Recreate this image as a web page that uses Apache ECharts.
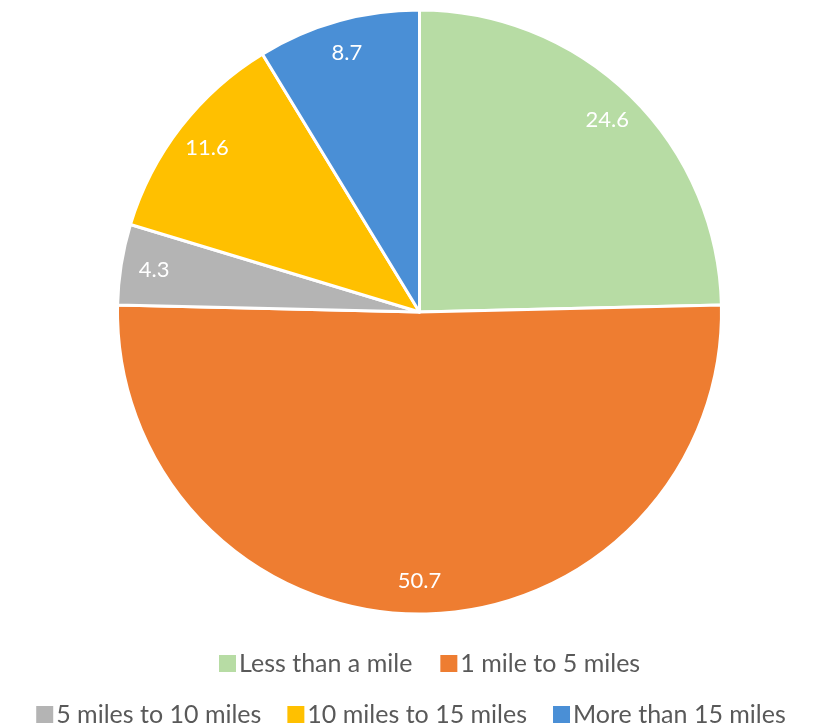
<!DOCTYPE html>
<html>
<head>
<meta charset="utf-8">
<script src="https://cdn.jsdelivr.net/npm/echarts@6/dist/echarts.min.js"></script>
<style>
  html, body { margin: 0; padding: 0; background: #ffffff; }
  #chart { width: 820px; height: 726px; }
</style>
</head>
<body>
<div id="chart"></div>
<script>
// Distance categories and their shares (%)
const categories = ['Less than a mile', '1 mile to 5 miles', '5 miles to 10 miles', '10 miles to 15 miles', 'More than 15 miles'];
const shares = [24.6, 50.7, 4.3, 11.6, 8.7];
const colors = ['#B7DCA4', '#EE7D31', '#B4B4B4', '#FFC000', '#4A8FD6'];

const legendRow1 = categories.slice(0, 2);
const legendRow2 = categories.slice(2);

const pieData = categories.map((name, i) => ({ name, value: shares[i], itemStyle: { color: colors[i] } }));

const chart = echarts.init(document.getElementById('chart'));
const FONT = 'Lato';
const center = [419.5, 312];
const R = 302;

const legendBase = {
  itemWidth: 19,
  itemHeight: 19,
  itemGap: 26,
  icon: 'rect',
  textStyle: { fontFamily: FONT, fontSize: 25, color: '#595959', padding: [0, 0, 0, -3] }
};

chart.setOption({
  animation: false,
  legend: [
    Object.assign({}, legendBase, { data: legendRow1, left: 212, top: 646 }),
    Object.assign({}, legendBase, { data: legendRow2, left: 'center', top: 697, itemGap: 24 })
  ],
  series: [
    {
      type: 'pie',
      center: center,
      radius: [0, R],
      startAngle: 90,
      clockwise: true,
      data: pieData,
      label: { show: false },
      labelLine: { show: false },
      itemStyle: { borderColor: '#ffffff', borderWidth: 3 },
      emphasis: { disabled: true }
    },
    {
      // transparent ring used only to place value labels near the outer edge
      type: 'pie',
      center: center,
      radius: [R * 0.76, R],
      startAngle: 90,
      clockwise: true,
      silent: true,
      legendHoverLink: false,
      data: categories.map((name, i) => ({ name, value: shares[i] })),
      itemStyle: { color: 'rgba(0,0,0,0)' },
      label: {
        show: true,
        position: 'inside',
        formatter: p => p.value.toFixed(1),
        color: '#ffffff',
        fontFamily: FONT,
        fontSize: 22
      },
      labelLine: { show: false },
      emphasis: { disabled: true }
    }
  ]
});
</script>
</body>
</html>
